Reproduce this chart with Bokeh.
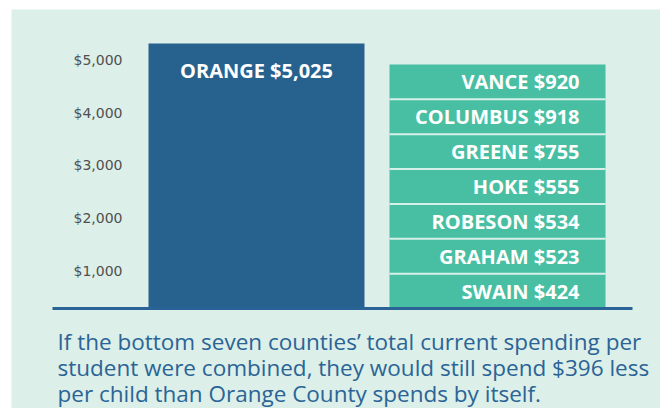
from bokeh.plotting import figure
from bokeh.models import Range1d, ColumnDataSource
from bokeh.core.properties import value
from bokeh.embed import file_html
from bokeh.resources import INLINE

# ---- data ----
top_county = "ORANGE"
top_value = 5025
counties = ["VANCE", "COLUMBUS", "GREENE", "HOKE", "ROBESON", "GRAHAM", "SWAIN"]
spending = [920, 918, 755, 555, 534, 523, 424]
tick_values = [1000, 2000, 3000, 4000, 5000]
tick_labels = ["$1,000", "$2,000", "$3,000", "$4,000", "$5,000"]
caption_lines = [
    "If the bottom seven counties\u2019 total current spending per",
    "student were combined, they would still spend $396 less",
    "per child than Orange County spends by itself.",
]

# ---- style / layout ----
BG = "#dcefe8"
DARK = "#27628e"
TEAL = "#48bfa2"
CAPTION = "#2a6496"
W, H = 660, 408
LEFT, TOP = 11, 9                 # white margin around the panel
FW, FH = W - LEFT, H - TOP        # frame size in pixels
UNIT = 241.0                      # pixels between bar centres
X0 = 245.0                        # frame pixel of first bar centre
BASE = 299.0                      # frame pixel (from top) of the zero line
PX_PER_VAL = 0.052736             # pixels per dollar
BAR_W = 216 / UNIT

x_start = -X0 / UNIT
x_end = x_start + FW / UNIT
y_end = BASE / PX_PER_VAL
y_start = -(FH - BASE) / PX_PER_VAL


def xpx(px):  # frame pixel -> data x
    return x_start + px / UNIT


def ypx(py):  # frame pixel from top -> data y
    return (BASE - py) / PX_PER_VAL


p = figure(width=W, height=H, output_backend="svg", toolbar_location=None,
           x_range=Range1d(x_start, x_end), y_range=Range1d(y_start, y_end),
           min_border=0, min_border_left=LEFT, min_border_right=0,
           min_border_top=TOP, min_border_bottom=0)
p.axis.visible = False
p.grid.visible = False
p.outline_line_color = None
p.background_fill_color = BG
p.border_fill_color = "white"

# Orange bar
p.vbar(x=[0], top=[top_value], bottom=0, width=BAR_W, color=DARK, line_color=None)
p.text(x=[0], y=[top_value], text=[f"{top_county} ${top_value:,}"], y_offset=27,
       text_align="center", text_baseline="middle", text_color="white",
       text_font=value("Open Sans"), text_font_style="bold", text_font_size="20px")

# Stacked bar of bottom seven, equal-height segments summing to their total
total = sum(spending)
n = len(counties)
seg = total / n
bottoms = [(n - 1 - i) * seg for i in range(n)]
tops = [b + seg for b in bottoms]
src = ColumnDataSource(dict(
    x=[1] * n, bottom=bottoms, top=tops,
    mid=[(b + t) / 2 for b, t in zip(bottoms, tops)],
    label=[f"{c} ${v:,}" for c, v in zip(counties, spending)],
    right=[1 + BAR_W / 2] * n,
))
p.vbar(x="x", bottom="bottom", top="top", width=BAR_W, source=src, color=TEAL, line_color=None)
p.segment(x0=[1 - BAR_W / 2] * (n - 1), x1=[1 + BAR_W / 2] * (n - 1),
          y0=tops[1:], y1=tops[1:], line_color="#d6f0e9", line_width=2)
p.text(x="right", y="mid", text="label", source=src, x_offset=-26,
       text_align="right", text_baseline="middle", text_color="white",
       text_font=value("Open Sans"), text_font_style="bold", text_font_size="20px")

# baseline
p.segment(x0=[xpx(41)], x1=[xpx(621)], y0=[0], y1=[0], line_color=CAPTION, line_width=3)

# tick labels (drawn slightly below their value, as in the original)
p.text(x=[xpx(111)] * len(tick_values), y=tick_values, text=tick_labels, y_offset=15,
       text_align="right", text_baseline="middle", text_color="#505050",
       text_font=value("DejaVu Sans"), text_font_size="14px")

# caption
p.text(x=[xpx(46)] * 3, y=[ypx(332), ypx(358), ypx(384)], text=caption_lines,
       text_align="left", text_baseline="middle", text_color=CAPTION,
       text_font=value("Open Sans"), text_font_size="22.5px")

open("out.html", "w").write(file_html(p, INLINE))
